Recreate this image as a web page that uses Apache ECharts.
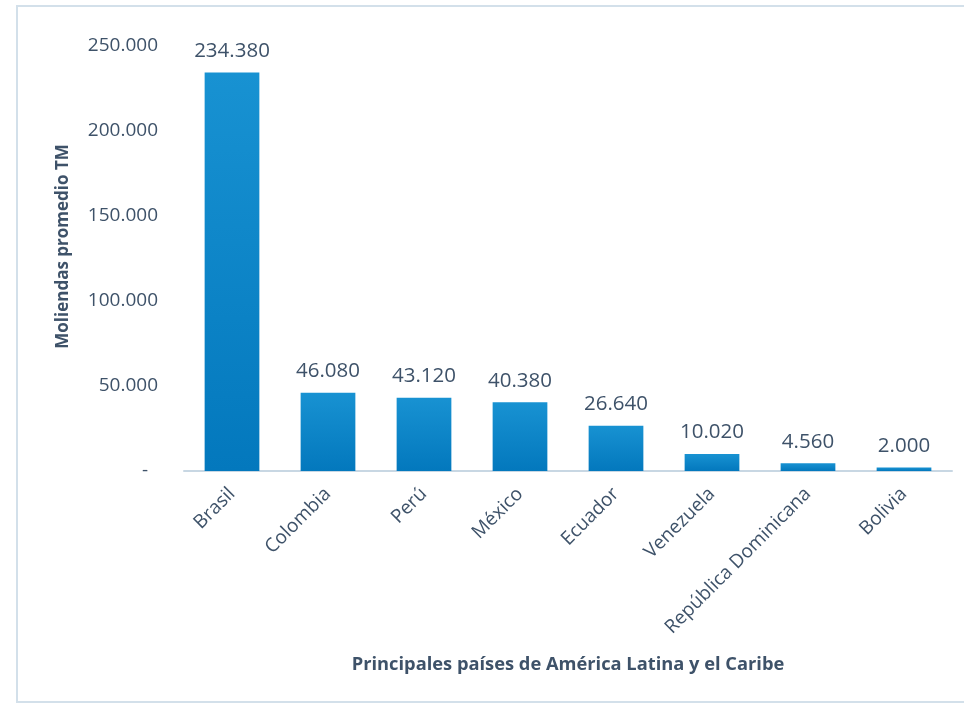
<!DOCTYPE html>
<html><head><meta charset="utf-8">
<script src="https://cdn.jsdelivr.net/npm/echarts@6/dist/echarts.min.js"></script>
<style>html,body{margin:0;padding:0;background:#fff}#c{width:964px;height:706px}</style>
</head><body><div id="c"></div>
<script>
const categories = ['Brasil','Colombia','Perú','México','Ecuador','Venezuela','República Dominicana','Bolivia'];
const values = [234380, 46080, 43120, 40380, 26640, 10020, 4560, 2000];
const yTicks = {min: 0, max: 250000, interval: 50000};
const yName = 'Moliendas promedio TM';
const xName = 'Principales países de América Latina y el Caribe';

const txt = '#3e5269';
const font = 'Open Sans';
function fmt(v){
  if (v === 0) return '-';
  return String(v).replace(/\B(?=(\d{3})+(?!\d))/g, '.');
}
const chart = echarts.init(document.getElementById('c'), null, {renderer:'canvas'});
chart.setOption({
  animation:false,
  textStyle:{fontFamily:font},
  graphic:[{type:'rect', shape:{x:17,y:6,width:960,height:696}, style:{fill:'none', stroke:'#d3e0ea', lineWidth:2}, silent:true}],
  grid:{left:184, right:12, top:46, bottom:235},
  xAxis:{type:'category', data:categories,
    axisLine:{lineStyle:{color:'#c8d7e3', width:2}},
    axisTick:{show:false},
    axisLabel:{rotate:45, color:txt, fontSize:19, fontFamily:font, margin:20, interval:0},
    name:xName, nameLocation:'middle', nameGap:185,
    nameTextStyle:{color:txt, fontSize:18.3, fontWeight:'bold', fontFamily:font}
  },
  yAxis:{type:'value', min:yTicks.min, max:yTicks.max, interval:yTicks.interval,
    axisLine:{show:false}, axisTick:{show:false}, splitLine:{show:false},
    axisLabel:{color:txt, fontSize:19, fontFamily:font, margin:26,
      formatter:function(v){ return v===0 ? '-  ' : fmt(v); }},
    name:yName, nameLocation:'middle', nameGap:112,
    nameTextStyle:{color:txt, fontSize:17, fontWeight:'bold', fontFamily:font, padding:[0,0,0,24]}
  },
  series:[{type:'bar', data:values, barWidth:'57%',
    itemStyle:{color:new echarts.graphic.LinearGradient(0,0,0,1,[{offset:0,color:'#1892d2'},{offset:1,color:'#0378bd'}])},
    label:{show:true, position:'top', distance:11, color:txt, fontSize:20.5, fontFamily:font,
      formatter:function(p){return fmt(p.value);}}
  }]
});
</script></body></html>
